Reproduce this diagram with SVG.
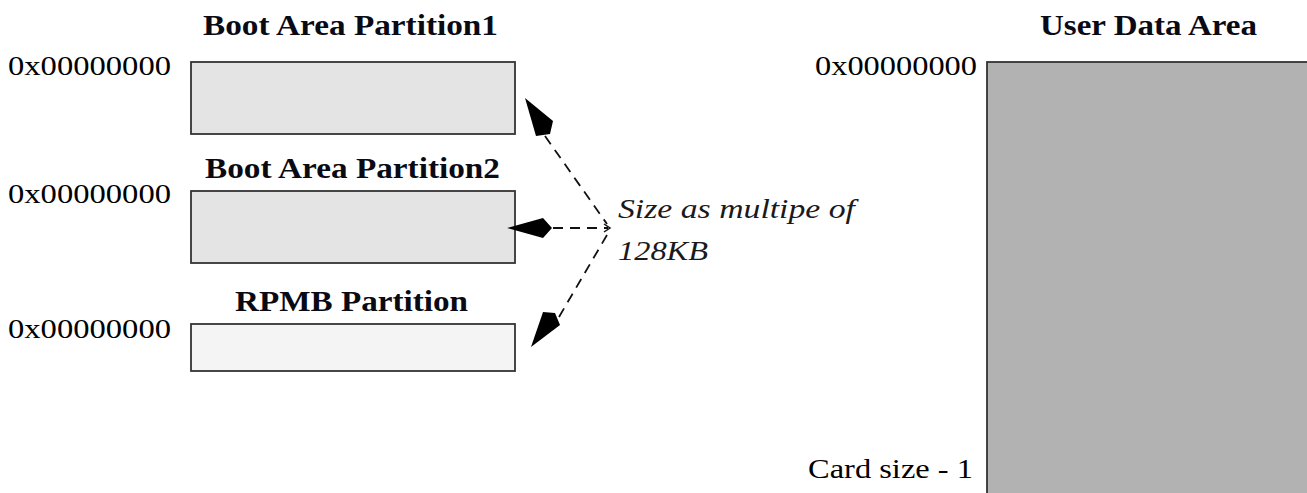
<svg xmlns="http://www.w3.org/2000/svg" width="1307" height="493" viewBox="0 0 1307 493">
  <style>
    .addr { font-family: "Liberation Serif", "Times New Roman", serif; font-size: 27px; fill: #000; }
    .title { font-family: "Liberation Serif", "Times New Roman", serif; font-size: 29px; font-weight: bold; fill: #0a0a14; }
    .note { font-family: "Liberation Serif", "Times New Roman", serif; font-size: 27px; font-style: italic; fill: #1a1a1a; }
    .part { stroke: #333; stroke-width: 1.8; }
    .lead { fill: none; stroke: #111; stroke-width: 1.8; stroke-dasharray: 10 7; }
    .head { fill: #000; stroke: none; }
  </style>

  <rect width="1307" height="493" fill="#fff"/>

  <!-- Boot area partition 1 -->
  <g id="boot1">
    <text class="title" x="203" y="35" textLength="295" lengthAdjust="spacingAndGlyphs">Boot Area Partition1</text>
    <text class="addr" x="8" y="75" textLength="163" lengthAdjust="spacingAndGlyphs">0x00000000</text>
    <rect class="part" x="191" y="62" width="324" height="72" fill="#e4e4e4"/>
  </g>

  <!-- Boot area partition 2 -->
  <g id="boot2">
    <text class="title" x="205" y="178" textLength="295" lengthAdjust="spacingAndGlyphs">Boot Area Partition2</text>
    <text class="addr" x="8" y="203" textLength="163" lengthAdjust="spacingAndGlyphs">0x00000000</text>
    <rect class="part" x="191" y="191" width="324" height="72" fill="#e4e4e4"/>
  </g>

  <!-- RPMB partition -->
  <g id="rpmb">
    <text class="title" x="235" y="311" textLength="233" lengthAdjust="spacingAndGlyphs">RPMB Partition</text>
    <text class="addr" x="8" y="338" textLength="163" lengthAdjust="spacingAndGlyphs">0x00000000</text>
    <rect class="part" x="191" y="324" width="324" height="47" fill="#f4f4f4"/>
  </g>

  <!-- User data area -->
  <g id="user-data">
    <text class="title" x="1040" y="35" textLength="217" lengthAdjust="spacingAndGlyphs">User Data Area</text>
    <text class="addr" x="815" y="75" textLength="162" lengthAdjust="spacingAndGlyphs">0x00000000</text>
    <text class="addr" x="808" y="478" textLength="165" lengthAdjust="spacingAndGlyphs">Card size - 1</text>
    <rect class="part" x="987" y="62" width="330" height="440" fill="#b2b2b2"/>
  </g>

  <!-- Size annotation -->
  <g id="size-note">
    <text class="note" x="618" y="218" textLength="237" lengthAdjust="spacingAndGlyphs">Size as multipe of</text>
    <text class="note" x="618" y="260" textLength="90" lengthAdjust="spacingAndGlyphs">128KB</text>
  </g>

  <!-- Connectors from the note to each partition -->
  <g id="connectors">
    <path class="lead" d="M545,136 L607,224"/>
    <path class="lead" d="M553,228 L608,228"/>
    <path class="lead" d="M559,317 L607,235"/>
    <path d="M604,224 L610,228 L604,232" fill="none" stroke="#111" stroke-width="1.5"/>
    <polygon class="head" points="525,98 553,121 550,134 536,136"/>
    <polygon class="head" points="507,228 543,218 552,228 543,238"/>
    <polygon class="head" points="531,347 543,312 555,313 560,325"/>
  </g>
</svg>
